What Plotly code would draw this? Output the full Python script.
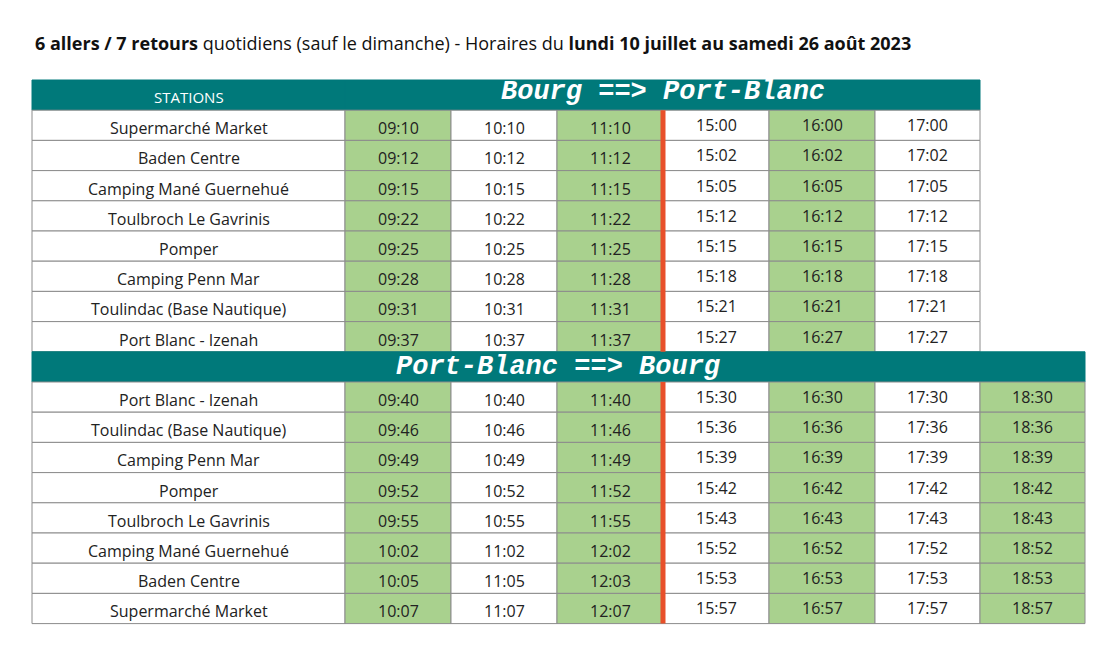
import plotly.graph_objects as go

stations_out = ["Supermarché Market", "Baden Centre", "Camping Mané Guernehué",
                "Toulbroch Le Gavrinis", "Pomper", "Camping Penn Mar",
                "Toulindac (Base Nautique)", "Port Blanc - Izenah"]
stations_back = stations_out[::-1]

times_out = [
    ["09:10", "10:10", "11:10", "15:00", "16:00", "17:00"],
    ["09:12", "10:12", "11:12", "15:02", "16:02", "17:02"],
    ["09:15", "10:15", "11:15", "15:05", "16:05", "17:05"],
    ["09:22", "10:22", "11:22", "15:12", "16:12", "17:12"],
    ["09:25", "10:25", "11:25", "15:15", "16:15", "17:15"],
    ["09:28", "10:28", "11:28", "15:18", "16:18", "17:18"],
    ["09:31", "10:31", "11:31", "15:21", "16:21", "17:21"],
    ["09:37", "10:37", "11:37", "15:27", "16:27", "17:27"],
]
times_back = [
    ["09:40", "10:40", "11:40", "15:30", "16:30", "17:30", "18:30"],
    ["09:46", "10:46", "11:46", "15:36", "16:36", "17:36", "18:36"],
    ["09:49", "10:49", "11:49", "15:39", "16:39", "17:39", "18:39"],
    ["09:52", "10:52", "11:52", "15:42", "16:42", "17:42", "18:42"],
    ["09:55", "10:55", "11:55", "15:43", "16:43", "17:43", "18:43"],
    ["10:02", "11:02", "12:02", "15:52", "16:52", "17:52", "18:52"],
    ["10:05", "11:05", "12:03", "15:53", "16:53", "17:53", "18:53"],
    ["10:07", "11:07", "12:07", "15:57", "16:57", "17:57", "18:57"],
]
green_cols = [0, 2, 4, 6]

TEAL = "#00797a"
GREEN = "#a9d18e"
RED = "#e8502a"
GRID = "#8c8c8c"
FONT = "Open Sans"

# layout grid (pixels, page offset of 8px removed)
OFF = 8
col_x = [x - OFF for x in [32, 345, 451, 557, 663, 769, 875, 980, 1085]]
row_h = 30.2
top1 = 80 - OFF

shapes, ann = [], []

def rect(x0, y0, x1, y1, fill, line=GRID, w=1):
    shapes.append(dict(type="rect", x0=x0, x1=x1, y0=y0, y1=y1, fillcolor=fill,
                       line=dict(color=line, width=w), layer="below"))

def text(x, y, s, size=16, color="#222", family=FONT, **kw):
    ann.append(dict(x=x, y=y, text=s, showarrow=False, xanchor="center", yanchor="middle",
                    font=dict(size=size, color=color, family=family), **kw))

def section(y0, stations, times, ncols, title, with_stations_hdr):
    right = col_x[ncols + 1]
    if with_stations_hdr:
        rect(col_x[0], y0, col_x[1], y0 + row_h, TEAL, TEAL)
        text((col_x[0] + col_x[1]) / 2, y0 + 17, "STATIONS", 15, "white")
        rect(col_x[1], y0, right, y0 + row_h, TEAL, TEAL)
        text((col_x[1] + right) / 2, y0 + 12, "<b><i>" + title + "</i></b>", 27, "white", "Liberation Mono")
    else:
        rect(col_x[0], y0, right, y0 + row_h, TEAL, TEAL)
        text((col_x[0] + right) / 2, y0 + 15, "<b><i>" + title + "</i></b>", 27, "white", "Liberation Mono")
    for r, (st, row) in enumerate(zip(stations, times)):
        ya = y0 + row_h * (r + 1)
        yb = ya + row_h
        rect(col_x[0], ya, col_x[1], yb, "white")
        text((col_x[0] + col_x[1]) / 2, ya + 18, st)
        for c, t in enumerate(row):
            rect(col_x[c + 1], ya, col_x[c + 2], yb, GREEN if c in green_cols else "white")
            text((col_x[c + 1] + col_x[c + 2]) / 2, ya + (18 if c < 3 else 15), t)
    shapes.append(dict(type="line", x0=col_x[4], x1=col_x[4], y0=y0 + row_h,
                       y1=y0 + row_h * (len(stations) + 1), line=dict(color=RED, width=5)))

section(top1, stations_out, times_out, 6, "Bourg ==> Port-Blanc", True)
top2 = top1 + row_h * 9
section(top2, stations_back, times_back, 7, "Port-Blanc ==> Bourg", False)

ann.append(dict(x=33 - OFF, y=43 - OFF, xanchor="left", yanchor="middle", showarrow=False,
                text="<b>6 allers / 7 retours</b> quotidiens (sauf le dimanche) - Horaires du "
                     "<b>lundi 10 juillet au samedi 26 août 2023</b>",
                font=dict(size=18, color="#111", family=FONT)))

fig = go.Figure()
fig.update_layout(width=1116, height=664, margin=dict(l=0, r=0, t=0, b=0),
                  paper_bgcolor="white", plot_bgcolor="white",
                  shapes=shapes, annotations=ann, showlegend=False)
fig.update_xaxes(range=[0, 1116], visible=False, fixedrange=True)
fig.update_yaxes(range=[664, 0], visible=False, fixedrange=True)
fig.write_html("out.html")
